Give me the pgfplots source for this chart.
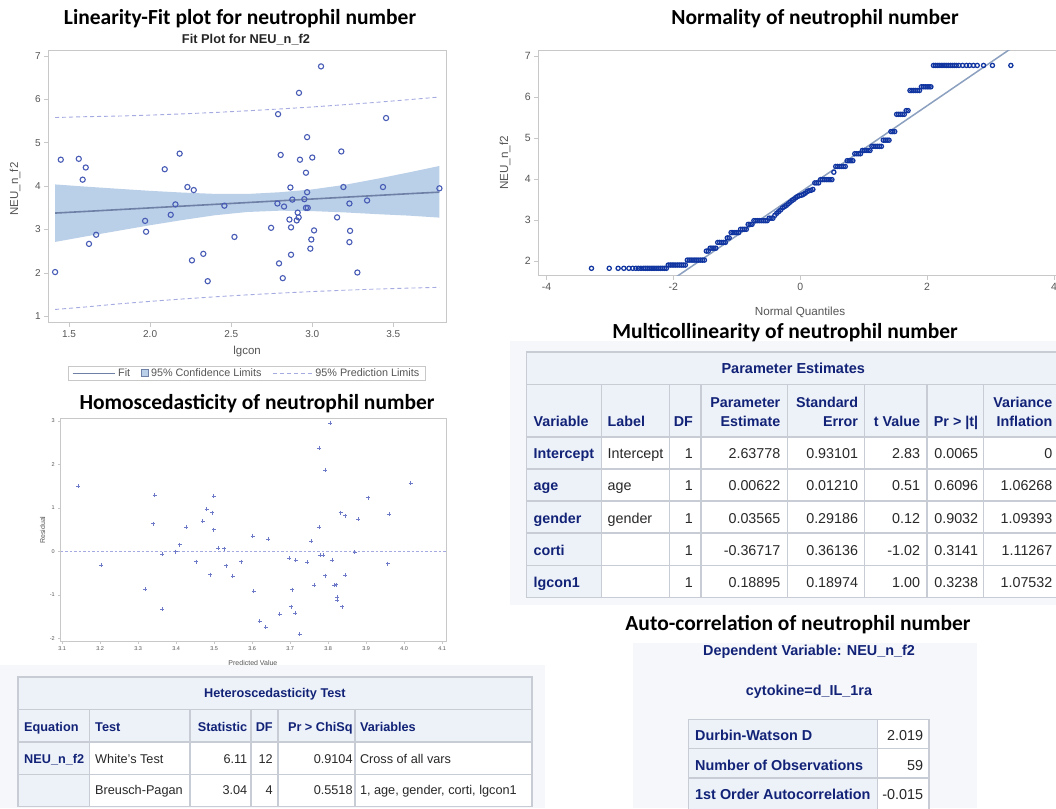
\documentclass[border=0pt]{standalone}
\usepackage{pgfplots}
\usepackage{pgfplotstable}
\pgfplotsset{compat=1.18}
\usepackage{fontspec}
\setmainfont{Liberation Sans}
\newfontfamily\headfont{Carlito}

% SAS-style palette
\definecolor{framegray}{RGB}{200,200,200}
\definecolor{ticktext}{RGB}{85,85,85}
\definecolor{ptcol}{RGB}{72,92,182}
\definecolor{fitcol}{RGB}{110,128,165}
\definecolor{cifill}{RGB}{186,207,232}
\definecolor{predcol}{RGB}{165,170,225}
\definecolor{rescol}{RGB}{110,122,200}
\definecolor{qqcol}{RGB}{16,52,160}
\definecolor{refcol}{RGB}{140,160,192}
\definecolor{panelbg}{RGB}{246,247,251}
\definecolor{hdrbg}{RGB}{237,242,249}
\definecolor{hdrfg}{RGB}{17,34,119}
\definecolor{gridc}{RGB}{200,204,212}
\definecolor{datafg}{RGB}{40,40,40}

% NEU_n_f2 against lgcon
\pgfplotstableread{
x y
1.449 4.61
1.560 4.63
1.603 4.43
1.584 4.15
1.414 2.02
1.623 2.67
1.667 2.88
1.969 3.20
1.975 2.95
2.090 4.39
2.182 4.75
2.127 3.34
2.156 3.58
2.230 3.98
2.269 3.91
2.258 2.29
2.328 2.44
2.355 1.81
2.458 3.55
2.520 2.83
2.746 3.04
2.789 5.66
2.785 3.60
2.805 4.72
2.795 2.22
2.818 1.88
2.826 3.53
2.865 3.97
2.859 3.23
2.869 3.05
2.869 2.42
2.877 3.69
2.918 6.15
2.924 4.61
2.910 3.39
2.916 3.28
2.904 3.21
2.951 3.70
2.961 4.31
2.968 5.13
2.968 3.86
2.961 3.50
2.972 3.50
3.000 4.66
3.011 2.98
2.994 2.77
2.988 2.56
3.054 6.76
3.179 4.80
3.192 3.98
3.153 3.28
3.229 3.60
3.233 2.97
3.229 2.71
3.278 2.01
3.338 3.67
3.436 3.98
3.455 5.57
3.784 3.95
}\fitdata

% fitted line with 95% prediction limits
\pgfplotstableread{
x fit plo pup
1.414 3.380 1.158 5.582
1.600 3.417 1.215 5.601
1.800 3.458 1.285 5.615
2.000 3.499 1.345 5.637
2.200 3.540 1.400 5.666
2.400 3.581 1.450 5.698
2.600 3.622 1.495 5.737
2.800 3.663 1.535 5.779
3.000 3.704 1.571 5.825
3.200 3.745 1.602 5.878
3.400 3.786 1.629 5.933
3.600 3.827 1.651 5.995
3.784 3.862 1.668 6.054
}\bandata

% 95% confidence band outline: upper limit left to right, lower limit back
\pgfplotstableread{
x y
1.414 4.040
1.600 3.990
1.800 3.940
2.000 3.892
2.200 3.852
2.400 3.822
2.600 3.820
2.800 3.860
3.000 3.925
3.200 4.030
3.400 4.170
3.600 4.320
3.784 4.465
3.784 3.275
3.600 3.320
3.400 3.355
3.200 3.395
3.000 3.425
2.800 3.435
2.600 3.405
2.400 3.330
2.200 3.220
2.000 3.100
1.800 2.970
1.600 2.840
1.414 2.715
}\cidata

% residual against predicted value
\pgfplotstableread{
p r
3.142 1.497
3.203 -0.313
3.319 -0.873
3.339 0.638
3.343 1.290
3.363 -1.333
3.363 -0.067
3.399 -0.006
3.409 0.155
3.427 0.561
3.452 -0.236
3.470 0.700
3.480 0.968
3.490 -0.535
3.494 0.891
3.499 1.267
3.499 0.500
3.511 0.078
3.527 0.063
3.531 -0.328
3.549 -0.574
3.571 -0.236
3.601 0.354
3.604 -0.911
3.620 -1.601
3.636 -1.747
3.642 0.278
3.672 -1.448
3.698 -0.160
3.702 -1.271
3.706 -0.880
3.714 -1.417
3.715 -0.206
3.725 -1.900
3.745 -0.244
3.755 0.239
3.763 -0.773
3.776 2.371
3.776 0.554
3.779 -0.091
3.787 -0.083
3.792 1.873
3.792 -0.558
3.806 2.954
3.810 -0.206
3.816 -0.773
3.821 -0.765
3.824 -1.057
3.824 -1.118
3.833 0.891
3.837 -1.271
3.845 0.822
3.845 -0.543
3.870 -0.014
3.879 0.738
3.905 1.236
3.957 -0.282
3.960 0.853
4.017 1.566
}\resdata

% normal quantiles of NEU_n_f2
\pgfplotstableread{
q v
-3.29 1.83
-3.01 1.83
-2.87 1.83
-2.78 1.83
-2.70 1.83
-2.64 1.83
-2.59 1.83
-2.55 1.83
-2.51 1.83
-2.47 1.83
-2.44 1.83
-2.41 1.83
-2.38 1.83
-2.35 1.83
-2.32 1.83
-2.29 1.83
-2.26 1.83
-2.23 1.83
-2.20 1.83
-2.17 1.83
-2.14 1.83
-2.11 1.83
-2.08 1.91
-2.05 1.91
-2.02 1.91
-1.99 1.91
-1.96 1.91
-1.93 1.91
-1.90 1.91
-1.87 1.91
-1.84 1.91
-1.81 1.91
-1.78 2.03
-1.75 2.03
-1.72 2.03
-1.69 2.03
-1.66 2.03
-1.63 2.03
-1.60 2.03
-1.57 2.03
-1.54 2.03
-1.51 2.03
-1.48 2.25
-1.45 2.25
-1.42 2.32
-1.39 2.32
-1.36 2.32
-1.33 2.32
-1.30 2.46
-1.27 2.46
-1.24 2.46
-1.21 2.46
-1.18 2.46
-1.15 2.57
-1.12 2.57
-1.09 2.70
-1.06 2.70
-1.03 2.70
-1.00 2.70
-0.97 2.70
-0.94 2.78
-0.91 2.78
-0.88 2.78
-0.85 2.78
-0.82 2.90
-0.79 2.90
-0.76 2.90
-0.73 2.99
-0.70 2.99
-0.67 2.99
-0.64 2.99
-0.61 2.99
-0.58 2.99
-0.55 2.99
-0.52 2.99
-0.49 3.05
-0.46 3.05
-0.43 3.05
-0.40 3.12
-0.37 3.17
-0.34 3.21
-0.31 3.25
-0.28 3.30
-0.25 3.33
-0.22 3.36
-0.19 3.40
-0.16 3.44
-0.13 3.48
-0.10 3.51
-0.07 3.55
-0.04 3.58
-0.01 3.60
0.02 3.61
0.05 3.63
0.08 3.66
0.11 3.70
0.14 3.72
0.17 3.73
0.20 3.75
0.23 3.91
0.26 3.91
0.29 3.91
0.32 3.99
0.35 3.99
0.38 3.99
0.41 3.99
0.44 3.99
0.47 3.99
0.50 3.99
0.53 4.17
0.56 4.31
0.59 4.31
0.62 4.31
0.65 4.31
0.68 4.31
0.71 4.31
0.74 4.45
0.77 4.45
0.80 4.45
0.83 4.45
0.86 4.62
0.89 4.62
0.92 4.62
0.95 4.62
0.98 4.70
1.01 4.70
1.04 4.70
1.07 4.70
1.10 4.70
1.13 4.80
1.16 4.80
1.19 4.80
1.22 4.80
1.25 4.80
1.28 4.80
1.31 4.95
1.34 4.95
1.37 4.95
1.40 4.95
1.43 5.16
1.46 5.16
1.49 5.16
1.52 5.58
1.55 5.58
1.58 5.58
1.61 5.58
1.64 5.58
1.67 5.67
1.70 5.67
1.73 6.16
1.76 6.16
1.79 6.16
1.82 6.16
1.85 6.16
1.88 6.16
1.91 6.25
1.94 6.25
1.97 6.25
2.00 6.25
2.03 6.25
2.06 6.25
2.10 6.77
2.13 6.77
2.16 6.77
2.19 6.77
2.22 6.77
2.25 6.77
2.28 6.77
2.31 6.77
2.34 6.77
2.37 6.77
2.40 6.77
2.43 6.77
2.46 6.77
2.50 6.77
2.56 6.77
2.62 6.77
2.67 6.77
2.73 6.77
2.79 6.77
2.89 6.77
3.03 6.77
3.32 6.77
}\qqdata

\pgfplotsset{
  sasaxis/.style={
    scale only axis,
    axis line style={draw=framegray, line width=1pt},
    tick pos=left, tick align=outside,
    tick style={draw=framegray, line width=0.8pt},
    /pgf/number format/assume math mode=true,
    tick label style={text=ticktext},
    label style={text=ticktext},
  },
}

\newcommand{\hfs}{\headfont\bfseries\fontsize{21.5}{24}\selectfont}

\begin{document}
\begin{tikzpicture}[x=1pt,y=-1pt]
\useasboundingbox (0,0) rectangle (1056,808);
\clip (0,0) rectangle (1056,808);
\fill[white] (0,0) rectangle (1056,808);

% output panels behind the tables
\fill[panelbg] (510,341) rectangle (1056,605);
\fill[panelbg] (0,665) rectangle (545,808);
\fill[panelbg] (633,643) rectangle (977,808);

% section headings
\node[font=\hfs] at (240,19) {Linearity-Fit plot for neutrophil number};
\node[font=\hfs] at (815,19) {Normality of neutrophil number};
\node[font=\hfs] at (257,404) {Homoscedasticity of neutrophil number};
\node[font=\hfs] at (785,333) {Multicollinearity of neutrophil number};
\node[font=\hfs] at (798,625) {Auto-correlation of neutrophil number};

% ---------- fit plot ----------
\node[font=\bfseries\fontsize{12.8}{14}\selectfont, text=black!85] at (246,40) {Fit Plot for NEU\_n\_f2};
\begin{axis}[sasaxis,
  at={(48.3pt,-322.7pt)}, anchor=south west,
  width=398.4pt, height=272.7pt,
  xmin=1.372, xmax=3.829, ymin=0.853, ymax=7.138,
  xtick={1.5,2,2.5,3,3.5}, xticklabels={1.5,2.0,2.5,3.0,3.5},
  ytick={1,2,3,4,5,6,7},
  major tick length=4pt,
  tick label style={font=\fontsize{10}{11}\selectfont},
  label style={font=\fontsize{11.5}{13}\selectfont},
  xlabel={lgcon}, ylabel={NEU\_n\_f2},
  xlabel style={at={(axis description cs:0.499,-0.104)}, anchor=center},
  ylabel style={at={(axis description cs:-0.0836,0.49)}, anchor=center},
  legend columns=3,
  legend style={at={(0.4985,-0.186)}, anchor=center, draw=framegray,
    line width=0.8pt, fill=white, text=ticktext,
    font=\fontsize{10.8}{12}\selectfont,
    inner xsep=4pt, inner ysep=0.5pt,
    /tikz/every even column/.append style={column sep=9pt}},
]
\addplot[fill=cifill, draw=none, forget plot] table[x=x, y=y] {\cidata} -- cycle;
\addplot[predcol, line width=0.9pt, dash pattern=on 4pt off 3pt, forget plot] table[x=x, y=pup] {\bandata};
\addplot[predcol, line width=0.9pt, dash pattern=on 4pt off 3pt, forget plot] table[x=x, y=plo] {\bandata};
\addplot[fitcol, line width=1.6pt, forget plot] table[x=x, y=fit] {\bandata};
\addplot[only marks, mark=o, mark size=2.6pt, ptcol, mark options={line width=1.1pt}, forget plot] table[x=x, y=y] {\fitdata};
\addlegendimage{legend image code/.code={\draw[fitcol, line width=1.6pt] (0pt,0pt) -- (42pt,0pt);}}
\addlegendentry{Fit}
\addlegendimage{legend image code/.code={\draw[fill=cifill, draw=fitcol, line width=0.9pt] (0pt,-3.5pt) rectangle (7pt,3.5pt);}}
\addlegendentry{95\% Confidence Limits}
\addlegendimage{legend image code/.code={\draw[predcol, line width=0.9pt, dash pattern=on 4pt off 3pt] (0pt,0pt) -- (40pt,0pt);}}
\addlegendentry{95\% Prediction Limits}
\end{axis}

% ---------- normal quantile plot ----------
\begin{axis}[sasaxis,
  at={(538.3pt,-275.7pt)}, anchor=south west,
  width=525.2pt, height=225.7pt,
  xmin=-4.128, xmax=4.15, ymin=1.65, ymax=7.146,
  xtick={-4,-2,0,2,4}, ytick={2,3,4,5,6,7},
  major tick length=4pt,
  tick label style={font=\fontsize{10.5}{12}\selectfont},
  label style={font=\fontsize{11.7}{13}\selectfont},
  xlabel={Normal Quantiles}, ylabel={NEU\_n\_f2},
  xlabel style={at={(axis description cs:0.4983,-0.1635)}, anchor=center},
  ylabel style={at={(axis description cs:-0.0634,0.5)}, anchor=center},
]
\addplot[refcol, line width=1.5pt] coordinates {(-2.5,1.045) (3.5,7.369)};
\addplot[only marks, mark=o, mark size=2.1pt, qqcol, mark options={line width=1.25pt}] table[x=q, y=v] {\qqdata};
\end{axis}

% ---------- residual plot ----------
\begin{axis}[sasaxis,
  at={(60.7pt,-641pt)}, anchor=south west,
  width=386pt, height=222.7pt,
  xmin=3.096, xmax=4.112, ymin=-2.06, ymax=3.06,
  xtick={3.1,3.2,3.3,3.4,3.5,3.6,3.7,3.8,3.9,4.0,4.1},
  xticklabels={3.1,3.2,3.3,3.4,3.5,3.6,3.7,3.8,3.9,4.0,4.1},
  ytick={-2,-1,0,1,2,3},
  major tick length=2.5pt,
  tick style={line width=0.6pt},
  axis line style={line width=0.8pt},
  tick label style={font=\fontsize{5.5}{6}\selectfont},
  label style={font=\fontsize{7}{8}\selectfont},
  xlabel={Predicted Value}, ylabel={Residual},
  xlabel style={at={(axis description cs:0.498,-0.0974)}, anchor=center},
  ylabel style={at={(axis description cs:-0.0466,0.498)}, anchor=center},
]
\addplot[predcol, line width=0.7pt, dash pattern=on 2.5pt off 2pt] coordinates {(3.096,0) (4.112,0)};
\addplot[only marks, mark=+, mark size=2pt, rescol, mark options={line width=0.8pt}] table[x=p, y=r] {\resdata};
\end{axis}

% ---------- Parameter Estimates ----------
\begin{scope}
\fill[hdrbg] (526.7,352.2) rectangle (1062,436.8);
\fill[hdrbg] (526.7,436.8) rectangle (601.6,597.7);
\fill[white] (601.6,436.8) rectangle (1062,597.7);
\draw[gridc, line width=1.5pt] (526.7,352.2) rectangle (1062,597.7);
\foreach \yy in {384.6,436.8,468.8,500.9,533.2,565.6}
  \draw[gridc, line width=1.5pt] (526.7,\yy) -- (1062,\yy);
\foreach \xx in {601.6,669.5,700.8,787.5,864.5,926.8,983.5}
  \draw[gridc, line width=1.5pt] (\xx,384.6) -- (\xx,597.7);
\begin{scope}[every node/.style={font=\fontsize{14.3}{16}\selectfont, inner sep=0pt}]
\node[anchor=base, text=hdrfg, font=\bfseries\fontsize{14.5}{16}\selectfont] at (793.3,373.5) {Parameter Estimates};
\begin{scope}[every node/.append style={text=hdrfg, font=\bfseries\fontsize{14.3}{16}\selectfont}]
\node[anchor=base west] at (533.5,426.1) {Variable};
\node[anchor=base west] at (607.5,426.1) {Label};
\node[anchor=base east] at (693,426.1) {DF};
\node[anchor=base east] at (780.5,407.1) {Parameter};
\node[anchor=base east] at (780.5,426.1) {Estimate};
\node[anchor=base east] at (858.2,407.1) {Standard};
\node[anchor=base east] at (858.2,426.1) {Error};
\node[anchor=base east] at (920.2,426.1) {t Value};
\node[anchor=base east] at (978.3,426.1) {Pr > |t|};
\node[anchor=base east] at (1052.5,407.1) {Variance};
\node[anchor=base east] at (1052.5,426.1) {Inflation};
\node[anchor=base west] at (533.5,458.3) {Intercept};
\node[anchor=base west] at (533.5,490.6) {age};
\node[anchor=base west] at (533.5,523.4) {gender};
\node[anchor=base west] at (533.5,555.8) {corti};
\node[anchor=base west] at (533.5,587.1) {lgcon1};
\end{scope}
\begin{scope}[every node/.append style={text=datafg}]
\node[anchor=base west] at (607.5,458.3) {Intercept};
\node[anchor=base west] at (607.5,490.6) {age};
\node[anchor=base west] at (607.5,523.4) {gender};
\foreach \yy/\df/\est/\se/\tv/\pv/\vif in {
  458.3/1/2.63778/0.93101/2.83/0.0065/0,
  490.6/1/0.00622/0.01210/0.51/0.6096/1.06268,
  523.4/1/0.03565/0.29186/0.12/0.9032/1.09393,
  555.8/1/-0.36717/0.36136/-1.02/0.3141/1.11267,
  587.1/1/0.18895/0.18974/1.00/0.3238/1.07532}{
  \node[anchor=base east] at (693,\yy) {\df};
  \node[anchor=base east] at (780.5,\yy) {\est};
  \node[anchor=base east] at (858.2,\yy) {\se};
  \node[anchor=base east] at (920.2,\yy) {\tv};
  \node[anchor=base east] at (978.3,\yy) {\pv};
  \node[anchor=base east] at (1052.5,\yy) {\vif};
}
\end{scope}
\end{scope}
\end{scope}

% ---------- Heteroscedasticity Test ----------
\begin{scope}
\fill[hdrbg] (18,677) rectangle (531.8,742);
\fill[hdrbg] (18,742) rectangle (89.7,806.5);
\fill[white] (89.7,742) rectangle (531.8,806.5);
\draw[gridc, line width=1.5pt] (18,677) rectangle (531.8,806.5);
\foreach \yy in {709.5,742,774.5}
  \draw[gridc, line width=1.5pt] (18,\yy) -- (531.8,\yy);
\foreach \xx in {89.7,189.8,251,278,355.2}
  \draw[gridc, line width=1.5pt] (\xx,709.5) -- (\xx,806.5);
\begin{scope}[every node/.style={font=\fontsize{12.7}{14}\selectfont, inner sep=0pt}]
\begin{scope}[every node/.append style={text=hdrfg, font=\bfseries\fontsize{12.7}{14}\selectfont}]
\node[anchor=base] at (274.9,697.6) {Heteroscedasticity Test};
\node[anchor=base west] at (24,731.1) {Equation};
\node[anchor=base west] at (95,731.1) {Test};
\node[anchor=base east] at (247.5,731.1) {Statistic};
\node[anchor=base east] at (272.9,731.1) {DF};
\node[anchor=base east] at (352.8,731.1) {Pr > ChiSq};
\node[anchor=base west] at (359.8,731.1) {Variables};
\node[anchor=base west] at (24,763.4) {NEU\_n\_f2};
\end{scope}
\begin{scope}[every node/.append style={text=datafg}]
\node[anchor=base west] at (95,763.4) {White's Test};
\node[anchor=base east] at (247.5,763.4) {6.11};
\node[anchor=base east] at (272.9,763.4) {12};
\node[anchor=base east] at (352.8,763.4) {0.9104};
\node[anchor=base west] at (359.8,763.4) {Cross of all vars};
\node[anchor=base west] at (95,794.6) {Breusch-Pagan};
\node[anchor=base east] at (247.5,794.6) {3.04};
\node[anchor=base east] at (272.9,794.6) {4};
\node[anchor=base east] at (352.8,794.6) {0.5518};
\node[anchor=base west] at (359.8,794.6) {1, age, gender, corti, lgcon1};
\end{scope}
\end{scope}
\end{scope}

% ---------- Durbin-Watson ----------
\begin{scope}
\begin{scope}[every node/.style={font=\bfseries\fontsize{14.4}{16}\selectfont, inner sep=0pt, text=hdrfg}]
\node[anchor=base] at (809,655.2) {Dependent Variable: NEU\_n\_f2};
\node[anchor=base] at (809,695.2) {cytokine=d\_IL\_1ra};
\end{scope}
\fill[hdrbg] (688.3,719.3) rectangle (877.3,810);
\fill[white] (877.3,719.3) rectangle (929,810);
\draw[gridc, line width=1.5pt] (688.3,810) -- (688.3,719.3) -- (929,719.3) -- (929,810);
\foreach \yy in {748.7,778}
  \draw[gridc, line width=1.5pt] (688.3,\yy) -- (929,\yy);
\draw[gridc, line width=1.5pt] (877.3,719.3) -- (877.3,810);
\begin{scope}[every node/.style={font=\fontsize{14.4}{16}\selectfont, inner sep=0pt}]
\begin{scope}[every node/.append style={text=hdrfg, font=\bfseries\fontsize{14.4}{16}\selectfont}]
\node[anchor=base west] at (695,740.2) {Durbin-Watson D};
\node[anchor=base west] at (695,770.2) {Number of Observations};
\node[anchor=base west] at (695,799.5) {1st Order Autocorrelation};
\end{scope}
\begin{scope}[every node/.append style={text=datafg}]
\node[anchor=base east] at (923.3,740.2) {2.019};
\node[anchor=base east] at (923.3,770.2) {59};
\node[anchor=base east] at (923.3,799.5) {-0.015};
\end{scope}
\end{scope}
\end{scope}

\end{tikzpicture}
\end{document}
